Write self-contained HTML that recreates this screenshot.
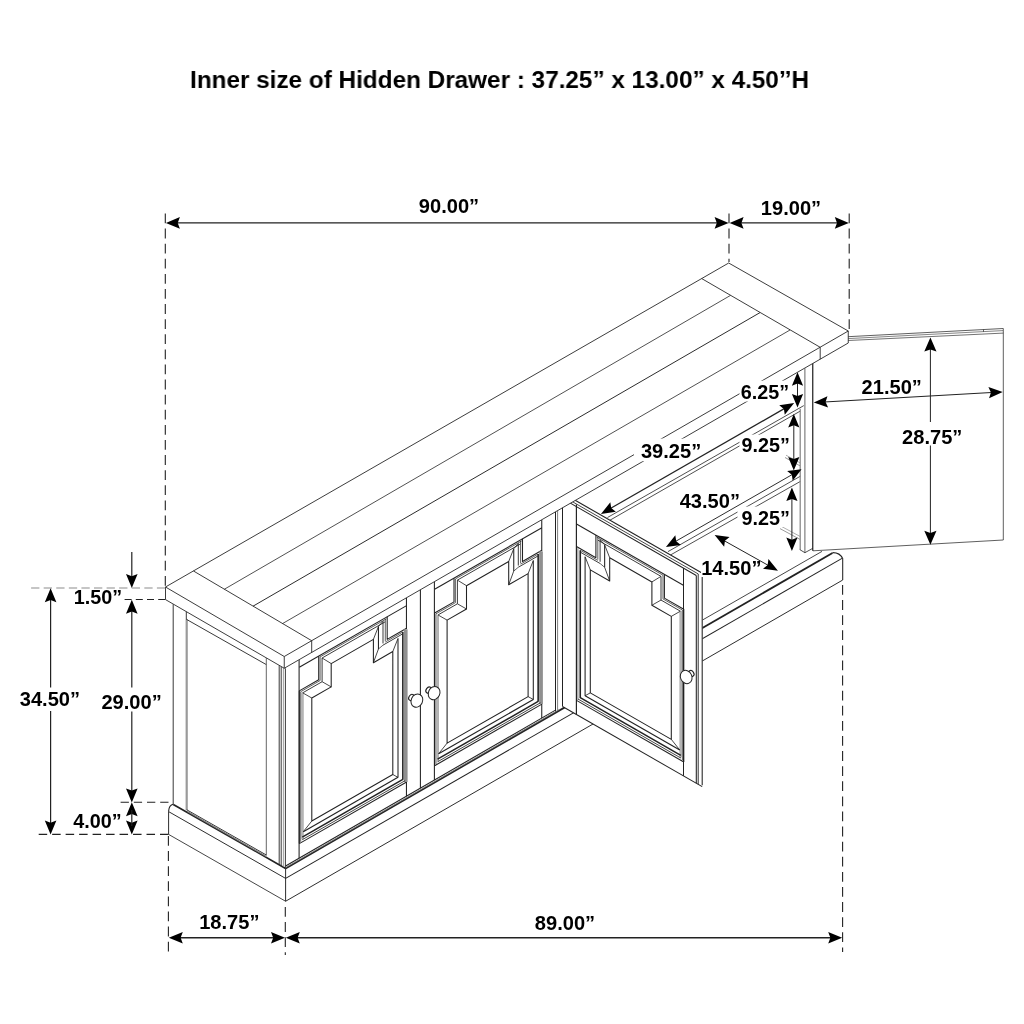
<!DOCTYPE html>
<html lang="en">
<head>
<meta charset="utf-8">
<title>Cabinet dimensions</title>
<style>
html,body{margin:0;padding:0;background:#fff;}
body{width:1024px;height:1024px;overflow:hidden;position:relative;font-family:"Liberation Sans",sans-serif;}
h1{position:absolute;left:190.3px;top:65.1px;margin:0;font-size:24.8px;line-height:30px;transform:scaleX(0.98);will-change:transform;font-weight:bold;color:#000;white-space:nowrap;letter-spacing:0;transform-origin:0 0;}
svg{position:absolute;left:0;top:0;will-change:transform;}
svg text{font-family:"Liberation Sans",sans-serif;font-weight:bold;fill:#000;}
</style>
</head>
<body>
<h1 id="ttl">Inner size of Hidden Drawer : 37.25” x 13.00” x 4.50’’H</h1>
<svg width="1024" height="1024" viewBox="0 0 1024 1024" fill="none" stroke-linecap="butt">
<line x1="702.5" y1="620.02" x2="822" y2="551.39" stroke="#222" stroke-width="0.84"/>
<path d="M285.6 868.4 L832.5 552.94" fill="none" stroke="#222" stroke-width="1.78" stroke-linejoin="round"/>
<path d="M832.5 552.64 Q 839.9 552.48 842.8 558.8" fill="none" stroke="#222" stroke-width="1.1"/>
<line x1="285.6" y1="878.4" x2="842" y2="558.4" stroke="#222" stroke-width="1.05"/>
<line x1="285.6" y1="901.25" x2="842.7" y2="580.06" stroke="#222" stroke-width="0.95"/>
<line x1="842.7" y1="558.6" x2="842.7" y2="580.06" stroke="#222" stroke-width="1.05"/>
<line x1="285.6" y1="868" x2="285.6" y2="901.25" stroke="#222" stroke-width="0.95"/>
<path d="M285.6 868.4 L173.3 804.4" fill="none" stroke="#222" stroke-width="1.68" stroke-linejoin="round"/>
<path d="M173.3 804.3 Q 169 805 168.6 811.3" fill="none" stroke="#222" stroke-width="1.1"/>
<line x1="168.6" y1="811.6" x2="285.6" y2="878.4" stroke="#222" stroke-width="0.95"/>
<line x1="168.6" y1="834.4" x2="285.6" y2="901.25" stroke="#222" stroke-width="0.84"/>
<line x1="168.6" y1="811.3" x2="168.6" y2="834.4" stroke="#222" stroke-width="0.95"/>
<line x1="173.2" y1="604.2" x2="173.2" y2="804.3" stroke="#222" stroke-width="0.9"/>
<line x1="186.3" y1="611.4" x2="186.3" y2="619.3" stroke="#222" stroke-width="0.9"/>
<line x1="186.7" y1="619.3" x2="186.7" y2="810.2" stroke="#9a9a9a" stroke-width="2.2"/>
<line x1="186.2" y1="619.2" x2="266.3" y2="664.6" stroke="#222" stroke-width="0.9"/>
<line x1="266.3" y1="658" x2="266.3" y2="855.4" stroke="#555" stroke-width="0.9"/>
<line x1="186.8" y1="809.8" x2="266.3" y2="855" stroke="#222" stroke-width="0.9"/>
<line x1="187.4" y1="811.4" x2="266.3" y2="856.4" stroke="#777" stroke-width="1.1"/>
<line x1="279.2" y1="665.5" x2="279.2" y2="864.4" stroke="#222" stroke-width="0.9"/>
<line x1="281.2" y1="666.6" x2="281.2" y2="865.6" stroke="#222" stroke-width="0.9"/>
<line x1="283.4" y1="667.8" x2="283.4" y2="866.9" stroke="#888" stroke-width="0.8"/>
<line x1="285.4" y1="668.3" x2="285.4" y2="868" stroke="#222" stroke-width="0.9"/>
<line x1="299.1" y1="659.99" x2="299.1" y2="858.23" stroke="#222" stroke-width="1.06"/>
<line x1="406.45" y1="597.78" x2="406.45" y2="628.91" stroke="#222" stroke-width="1.06"/>
<line x1="406.45" y1="781.41" x2="406.45" y2="796.24" stroke="#222" stroke-width="1.06"/>
<line x1="420.4" y1="589.73" x2="420.4" y2="788.18" stroke="#222" stroke-width="1.06"/>
<line x1="434.4" y1="581.66" x2="434.4" y2="780.1" stroke="#222" stroke-width="1.06"/>
<line x1="541.75" y1="519.75" x2="541.75" y2="551.31" stroke="#222" stroke-width="1.06"/>
<line x1="541.75" y1="703.81" x2="541.75" y2="718.1" stroke="#222" stroke-width="1.06"/>
<line x1="555.5" y1="511.82" x2="555.5" y2="711.66" stroke="#222" stroke-width="1.06"/>
<line x1="557.6" y1="510.61" x2="557.6" y2="710.45" stroke="#666" stroke-width="0.83"/>
<line x1="285.6" y1="866.03" x2="555.5" y2="710.16" stroke="#222" stroke-width="1.06"/>
<line x1="285.6" y1="867.63" x2="560" y2="709.16" stroke="#777" stroke-width="0.83"/>
<line x1="299.3" y1="667.2" x2="406.6" y2="605.61" stroke="#222" stroke-width="1.06"/>
<path d="M299.3 843.6 L299.3 690.9 L318.7 679.76 L318.7 656.06" fill="none" stroke="#222" stroke-width="1.06" stroke-linejoin="round"/>
<path d="M387.2 616.75 L387.2 639.35 L406.6 628.21" fill="none" stroke="#222" stroke-width="1.06" stroke-linejoin="round"/>
<path d="M406.6 782.01 L299.3 843.6" fill="none" stroke="#222" stroke-width="1.06" stroke-linejoin="round"/>
<path d="M311.8 821.03 L311.8 698.03 L331.2 686.89 L331.2 663.59 L373.4 639.37 L373.4 662.67 L392.8 651.53 L392.8 774.53 Z" fill="none" stroke="#222" stroke-width="1.06" stroke-linejoin="round"/>
<path d="M300.7 841.84 L300.7 691.7 L320.1 680.56 L320.1 656.86 L386.36 618.83" fill="none" stroke="#222" stroke-width="0.71" stroke-linejoin="round"/>
<path d="M302.7 839.31 L302.7 692.85 L322.1 681.71 L322.1 658.01 L385.16 621.82" fill="none" stroke="#222" stroke-width="0.89" stroke-linejoin="round"/>
<line x1="302.3" y1="692.68" x2="302.3" y2="838.88" stroke="#b4b4b4" stroke-width="2.6"/>
<line x1="322.1" y1="658.01" x2="331.2" y2="663.59" stroke="#222" stroke-width="0.83"/>
<line x1="322.1" y1="681.71" x2="331.2" y2="686.89" stroke="#222" stroke-width="0.83"/>
<line x1="302.7" y1="692.85" x2="311.8" y2="698.03" stroke="#222" stroke-width="0.83"/>
<line x1="385.3" y1="618.79" x2="385.3" y2="641.2" stroke="#222" stroke-width="0.71"/>
<line x1="383" y1="621.26" x2="383" y2="643.44" stroke="#222" stroke-width="0.89"/>
<line x1="378.45" y1="626.57" x2="378.45" y2="648.97" stroke="#222" stroke-width="1.06"/>
<line x1="378.45" y1="626.57" x2="373.4" y2="639.37" stroke="#222" stroke-width="0.83"/>
<line x1="378.45" y1="648.97" x2="373.4" y2="662.67" stroke="#222" stroke-width="0.83"/>
<line x1="383" y1="621.26" x2="378.45" y2="626.57" stroke="#222" stroke-width="0.83"/>
<line x1="385.3" y1="642.04" x2="402.85" y2="631.96" stroke="#222" stroke-width="0.71"/>
<line x1="383" y1="645.16" x2="402.85" y2="633.76" stroke="#222" stroke-width="0.89"/>
<line x1="378.45" y1="648.97" x2="383" y2="645.16" stroke="#222" stroke-width="0.71"/>
<line x1="398" y1="638.45" x2="392.8" y2="651.53" stroke="#222" stroke-width="0.83"/>
<line x1="402.85" y1="631.96" x2="402.85" y2="779.76" stroke="#222" stroke-width="1.59"/>
<line x1="398" y1="638.45" x2="398" y2="777.55" stroke="#222" stroke-width="1.06"/>
<line x1="405.7" y1="629.33" x2="405.7" y2="781.93" stroke="#909090" stroke-width="3.78"/>
<line x1="302.3" y1="839.68" x2="405.1" y2="780.67" stroke="#222" stroke-width="0.83"/>
<line x1="302.3" y1="837.08" x2="402.85" y2="779.36" stroke="#222" stroke-width="1.53"/>
<line x1="303.3" y1="831.7" x2="398" y2="777.35" stroke="#222" stroke-width="1.18"/>
<line x1="303.3" y1="831.7" x2="311.8" y2="821.03" stroke="#222" stroke-width="0.83"/>
<line x1="398" y1="777.35" x2="392.8" y2="774.53" stroke="#222" stroke-width="0.83"/>
<line x1="434.6" y1="589.3" x2="541.9" y2="527.71" stroke="#222" stroke-width="1.06"/>
<path d="M434.6 765.7 L434.6 613 L454 601.86 L454 578.16" fill="none" stroke="#222" stroke-width="1.06" stroke-linejoin="round"/>
<path d="M522.5 538.85 L522.5 561.45 L541.9 550.31" fill="none" stroke="#222" stroke-width="1.06" stroke-linejoin="round"/>
<path d="M541.9 704.11 L434.6 765.7" fill="none" stroke="#222" stroke-width="1.06" stroke-linejoin="round"/>
<path d="M447.1 743.12 L447.1 620.12 L466.5 608.99 L466.5 585.69 L508.7 561.47 L508.7 584.77 L528.1 573.63 L528.1 696.63 Z" fill="none" stroke="#222" stroke-width="1.06" stroke-linejoin="round"/>
<path d="M436 763.94 L436 613.8 L455.4 602.66 L455.4 578.96 L521.66 540.93" fill="none" stroke="#222" stroke-width="0.71" stroke-linejoin="round"/>
<path d="M438 761.41 L438 614.95 L457.4 603.81 L457.4 580.11 L520.46 543.92" fill="none" stroke="#222" stroke-width="0.89" stroke-linejoin="round"/>
<line x1="437.6" y1="614.78" x2="437.6" y2="760.98" stroke="#b4b4b4" stroke-width="2.6"/>
<line x1="457.4" y1="580.11" x2="466.5" y2="585.69" stroke="#222" stroke-width="0.83"/>
<line x1="457.4" y1="603.81" x2="466.5" y2="608.99" stroke="#222" stroke-width="0.83"/>
<line x1="438" y1="614.95" x2="447.1" y2="620.12" stroke="#222" stroke-width="0.83"/>
<line x1="520.6" y1="540.89" x2="520.6" y2="563.3" stroke="#222" stroke-width="0.71"/>
<line x1="518.3" y1="543.36" x2="518.3" y2="565.54" stroke="#222" stroke-width="0.89"/>
<line x1="513.75" y1="548.67" x2="513.75" y2="571.07" stroke="#222" stroke-width="1.06"/>
<line x1="513.75" y1="548.67" x2="508.7" y2="561.47" stroke="#222" stroke-width="0.83"/>
<line x1="513.75" y1="571.07" x2="508.7" y2="584.77" stroke="#222" stroke-width="0.83"/>
<line x1="518.3" y1="543.36" x2="513.75" y2="548.67" stroke="#222" stroke-width="0.83"/>
<line x1="520.6" y1="564.14" x2="538.15" y2="554.06" stroke="#222" stroke-width="0.71"/>
<line x1="518.3" y1="567.26" x2="538.15" y2="555.86" stroke="#222" stroke-width="0.89"/>
<line x1="513.75" y1="571.07" x2="518.3" y2="567.26" stroke="#222" stroke-width="0.71"/>
<line x1="533.3" y1="560.55" x2="528.1" y2="573.63" stroke="#222" stroke-width="0.83"/>
<line x1="538.15" y1="554.06" x2="538.15" y2="701.86" stroke="#222" stroke-width="1.59"/>
<line x1="533.3" y1="560.55" x2="533.3" y2="699.65" stroke="#222" stroke-width="1.06"/>
<line x1="541" y1="551.43" x2="541" y2="704.03" stroke="#909090" stroke-width="3.78"/>
<line x1="437.6" y1="761.78" x2="540.4" y2="702.77" stroke="#222" stroke-width="0.83"/>
<line x1="437.6" y1="759.18" x2="538.15" y2="701.46" stroke="#222" stroke-width="1.53"/>
<line x1="438.6" y1="753.8" x2="533.3" y2="699.45" stroke="#222" stroke-width="1.18"/>
<line x1="438.6" y1="753.8" x2="447.1" y2="743.12" stroke="#222" stroke-width="0.83"/>
<line x1="533.3" y1="699.45" x2="528.1" y2="696.63" stroke="#222" stroke-width="0.83"/>
<ellipse cx="411.4" cy="697.4" rx="2.4" ry="3.3" transform="rotate(35 411.4 697.4)" fill="#fff" stroke="#222" stroke-width="1.1"/>
<ellipse cx="416.9" cy="700.6" rx="5.7" ry="6.8" transform="rotate(25 416.9 700.6)" fill="#fff" stroke="#222" stroke-width="1.0"/>
<ellipse cx="428.6" cy="690" rx="2.4" ry="3.3" transform="rotate(35 428.6 690)" fill="#fff" stroke="#222" stroke-width="1.1"/>
<ellipse cx="434.1" cy="693.1" rx="5.7" ry="6.8" transform="rotate(25 434.1 693.1)" fill="#fff" stroke="#222" stroke-width="1.0"/>
<line x1="607.5" y1="517.5" x2="803.8" y2="405.6" stroke="#222" stroke-width="0.8"/>
<line x1="610" y1="520.2" x2="800.4" y2="411" stroke="#222" stroke-width="0.8"/>
<line x1="668" y1="551.6" x2="800.4" y2="476.2" stroke="#222" stroke-width="0.8"/>
<line x1="668" y1="556.4" x2="800.4" y2="481.4" stroke="#222" stroke-width="0.8"/>
<line x1="785" y1="457.5" x2="800" y2="465.8" stroke="#555" stroke-width="0.6"/>
<line x1="786" y1="455.2" x2="800" y2="462.8" stroke="#777" stroke-width="0.6"/>
<line x1="780" y1="528.6" x2="800" y2="539.4" stroke="#555" stroke-width="0.6"/>
<line x1="781" y1="526.2" x2="800" y2="536.4" stroke="#777" stroke-width="0.6"/>
<line x1="800.2" y1="408.8" x2="800.2" y2="549.8" stroke="#808080" stroke-width="1.2"/>
<line x1="804.9" y1="368.3" x2="804.9" y2="552.8" stroke="#555" stroke-width="0.9"/>
<line x1="813" y1="363.63" x2="813" y2="550.8" stroke="#111" stroke-width="1.5"/>
<path d="M799.8 549.6 L804.9 552.7 L813 548.2" fill="none" stroke="#222" stroke-width="0.8" stroke-linejoin="round"/>
<path d="M813 345 L848 336.7 L1003.3 328.5 L1003.3 540 L813 550.8 Z" fill="#fff" stroke="#2a2a2a" stroke-width="0.75" stroke-linejoin="round"/>
<line x1="848" y1="338.6" x2="1003" y2="330.6" stroke="#333" stroke-width="0.6"/>
<line x1="848" y1="340.5" x2="1003.3" y2="333.1" stroke="#333" stroke-width="0.7"/>
<line x1="983.5" y1="329.6" x2="983.5" y2="331.8" stroke="#222" stroke-width="0.7"/>
<path d="M562.5 493.02 L702.5 573.24 L702.5 786.44 L562.5 706.42 Z" fill="#fff" stroke="#fff" stroke-width="0.01" stroke-linejoin="round"/>
<line x1="562.5" y1="493.02" x2="562.5" y2="706.42" stroke="#222" stroke-width="1.06"/>
<line x1="562.5" y1="493.02" x2="702.4" y2="573.32" stroke="#222" stroke-width="1.06"/>
<line x1="562.5" y1="496.02" x2="698.2" y2="573.91" stroke="#222" stroke-width="0.83"/>
<line x1="562.5" y1="498.62" x2="696.3" y2="575.42" stroke="#222" stroke-width="1.06"/>
<line x1="576.4" y1="504.5" x2="576.4" y2="714.4" stroke="#222" stroke-width="1.18"/>
<line x1="683.5" y1="568.08" x2="683.5" y2="775.88" stroke="#222" stroke-width="1.06"/>
<line x1="696.3" y1="575.42" x2="696.3" y2="783.22" stroke="#222" stroke-width="1.06"/>
<line x1="698.2" y1="573.91" x2="698.2" y2="784.31" stroke="#222" stroke-width="0.94"/>
<line x1="702.2" y1="573.21" x2="702.2" y2="785.31" stroke="#222" stroke-width="1.06"/>
<line x1="562.5" y1="706.42" x2="702.2" y2="786.61" stroke="#222" stroke-width="1.06"/>
<line x1="683.8" y1="585.55" x2="576.5" y2="523.96" stroke="#222" stroke-width="1.06"/>
<path d="M683.8 761.95 L683.8 609.25 L664.4 598.11 L664.4 574.41" fill="none" stroke="#222" stroke-width="1.06" stroke-linejoin="round"/>
<path d="M595.9 535.09 L595.9 557.69 L576.5 546.56" fill="none" stroke="#222" stroke-width="1.06" stroke-linejoin="round"/>
<path d="M576.5 700.36 L683.8 761.95" fill="none" stroke="#222" stroke-width="1.06" stroke-linejoin="round"/>
<path d="M671.3 739.37 L671.3 616.37 L651.9 605.24 L651.9 581.94 L609.7 557.71 L609.7 581.01 L590.3 569.88 L590.3 692.88 Z" fill="none" stroke="#222" stroke-width="1.06" stroke-linejoin="round"/>
<path d="M682.4 760.18 L682.4 610.04 L663 598.91 L663 575.21 L596.74 537.18" fill="none" stroke="#222" stroke-width="0.71" stroke-linejoin="round"/>
<path d="M680.4 757.66 L680.4 611.2 L661 600.06 L661 576.36 L597.94 540.16" fill="none" stroke="#222" stroke-width="0.89" stroke-linejoin="round"/>
<line x1="680.8" y1="611.03" x2="680.8" y2="757.23" stroke="#b4b4b4" stroke-width="2.6"/>
<line x1="661" y1="576.36" x2="651.9" y2="581.94" stroke="#222" stroke-width="0.83"/>
<line x1="661" y1="600.06" x2="651.9" y2="605.24" stroke="#222" stroke-width="0.83"/>
<line x1="680.4" y1="611.2" x2="671.3" y2="616.37" stroke="#222" stroke-width="0.83"/>
<line x1="597.8" y1="537.13" x2="597.8" y2="559.54" stroke="#222" stroke-width="0.71"/>
<line x1="600.1" y1="539.6" x2="600.1" y2="561.78" stroke="#222" stroke-width="0.89"/>
<line x1="604.65" y1="544.92" x2="604.65" y2="567.32" stroke="#222" stroke-width="1.06"/>
<line x1="604.65" y1="544.92" x2="609.7" y2="557.71" stroke="#222" stroke-width="0.83"/>
<line x1="604.65" y1="567.32" x2="609.7" y2="581.01" stroke="#222" stroke-width="0.83"/>
<line x1="600.1" y1="539.6" x2="604.65" y2="544.92" stroke="#222" stroke-width="0.83"/>
<line x1="597.8" y1="560.38" x2="580.25" y2="550.31" stroke="#222" stroke-width="0.71"/>
<line x1="600.1" y1="563.5" x2="580.25" y2="552.11" stroke="#222" stroke-width="0.89"/>
<line x1="604.65" y1="567.32" x2="600.1" y2="563.5" stroke="#222" stroke-width="0.71"/>
<line x1="585.1" y1="556.79" x2="590.3" y2="569.88" stroke="#222" stroke-width="0.83"/>
<line x1="580.25" y1="550.31" x2="580.25" y2="698.11" stroke="#222" stroke-width="1.59"/>
<line x1="585.1" y1="556.79" x2="585.1" y2="695.89" stroke="#222" stroke-width="1.06"/>
<line x1="576.5" y1="546.56" x2="576.5" y2="700.36" stroke="#222" stroke-width="1.06"/>
<line x1="577.9" y1="548.16" x2="577.9" y2="699.96" stroke="#666" stroke-width="0.83"/>
<line x1="680.8" y1="758.03" x2="578" y2="699.02" stroke="#222" stroke-width="0.83"/>
<line x1="680.8" y1="755.43" x2="580.25" y2="697.71" stroke="#222" stroke-width="1.53"/>
<line x1="679.8" y1="750.05" x2="585.1" y2="695.69" stroke="#222" stroke-width="1.18"/>
<line x1="679.8" y1="750.05" x2="671.3" y2="739.37" stroke="#222" stroke-width="0.83"/>
<line x1="585.1" y1="695.69" x2="590.3" y2="692.88" stroke="#222" stroke-width="0.83"/>
<ellipse cx="691.4" cy="673.4" rx="2.3" ry="3.2" transform="rotate(-35 691.4 673.4)" fill="#fff" stroke="#222" stroke-width="1.1"/>
<ellipse cx="686.2" cy="677.0" rx="5.7" ry="6.8" transform="rotate(-25 686.2 677)" fill="#fff" stroke="#222" stroke-width="1.0"/>
<path d="M165.5 587 L728.7 263 L848.25 331 L848.25 343 L284.25 668.25 L165.5 599.6 Z" fill="#fff" stroke="#222" stroke-width="0.88" stroke-linejoin="round"/>
<path d="M165.5 587 L284.25 656.5 L848.25 331" fill="none" stroke="#222" stroke-width="0.88" stroke-linejoin="round"/>
<line x1="284.25" y1="656.5" x2="284.25" y2="668.25" stroke="#222" stroke-width="0.88"/>
<path d="M193.5 571 L311.7 640.7 L311.7 652.4" fill="none" stroke="#222" stroke-width="0.88" stroke-linejoin="round"/>
<path d="M701.75 278.6 L820.2 347.3 L820.2 359.2" fill="none" stroke="#222" stroke-width="0.88" stroke-linejoin="round"/>
<line x1="224.25" y1="589.3" x2="730.5" y2="295.4" stroke="#222" stroke-width="0.79"/>
<line x1="253" y1="606.2" x2="760" y2="312.6" stroke="#222" stroke-width="0.96"/>
<line x1="282.5" y1="623.6" x2="790" y2="330" stroke="#222" stroke-width="0.79"/>
<rect x="739.5" y="380.6" width="50" height="20.9" fill="#fff"/>
<rect x="634" y="438.6" width="69" height="22.6" fill="#fff"/>
<rect x="739.5" y="434.6" width="50.5" height="19.4" fill="#fff"/>
<rect x="678" y="492" width="63" height="18" fill="#fff"/>
<rect x="737.5" y="506.6" width="53" height="20.4" fill="#fff"/>
<rect x="701" y="559.5" width="60" height="17.5" fill="#fff"/>
<rect x="860" y="378.5" width="63" height="17" fill="#fff"/>
<rect x="901" y="423" width="62" height="22" fill="#fff"/>
<line x1="165.3" y1="213.5" x2="165.3" y2="586" stroke="#222" stroke-width="1.1" stroke-dasharray="9.8 5.3"/>
<line x1="729" y1="213.5" x2="729" y2="262" stroke="#222" stroke-width="1.1" stroke-dasharray="9.8 5.3"/>
<line x1="849.2" y1="213.5" x2="849.2" y2="330" stroke="#222" stroke-width="1.1" stroke-dasharray="9.8 5.3"/>
<line x1="170" y1="222.9" x2="725" y2="222.9" stroke="#222" stroke-width="1.4"/>
<polygon points="165.9,222.9 179.9,217.1 177.7,222.9 179.9,228.7" fill="#000"/>
<polygon points="728.6,222.9 714.6,228.7 716.8,222.9 714.6,217.1" fill="#000"/>
<line x1="735" y1="222.9" x2="844" y2="222.9" stroke="#222" stroke-width="1.4"/>
<polygon points="729.6,222.9 743.6,217.1 741.4,222.9 743.6,228.7" fill="#000"/>
<polygon points="848.8,222.9 834.8,228.7 837,222.9 834.8,217.1" fill="#000"/>
<line x1="165.2" y1="588" x2="30.8" y2="588" stroke="#8c8c8c" stroke-width="1.1" stroke-dasharray="8.3 4.28"/>
<line x1="165.2" y1="599.5" x2="123" y2="599.5" stroke="#222" stroke-width="1.1" stroke-dasharray="7 4.2"/>
<line x1="168.5" y1="802.3" x2="118.7" y2="802.3" stroke="#222" stroke-width="1.1" stroke-dasharray="8.3 4.9"/>
<line x1="168.5" y1="834.4" x2="38.7" y2="834.4" stroke="#222" stroke-width="1.1" stroke-dasharray="8.5 4.98"/>
<line x1="50.6" y1="594" x2="50.6" y2="687.5" stroke="#222" stroke-width="1.2"/>
<line x1="50.6" y1="711" x2="50.6" y2="830" stroke="#222" stroke-width="1.2"/>
<polygon points="50.6,588.2 56.4,602.2 50.6,600 44.8,602.2" fill="#000"/>
<polygon points="50.6,834.6 44.8,820.6 50.6,822.8 56.4,820.6" fill="#000"/>
<line x1="131.8" y1="552" x2="131.8" y2="580" stroke="#222" stroke-width="1.2"/>
<polygon points="131.8,588 126,574 131.8,576.2 137.6,574" fill="#000"/>
<line x1="131.8" y1="606" x2="131.8" y2="687.5" stroke="#222" stroke-width="1.2"/>
<polygon points="131.8,599.8 137.6,613.8 131.8,611.6 126,613.8" fill="#000"/>
<line x1="131.8" y1="711.5" x2="131.8" y2="796" stroke="#222" stroke-width="1.2"/>
<polygon points="131.8,802.4 126,788.4 131.8,790.6 137.6,788.4" fill="#000"/>
<polygon points="131.8,802.2 137.6,816.2 131.8,814 126,816.2" fill="#000"/>
<polygon points="131.8,834.6 126,820.6 131.8,822.8 137.6,820.6" fill="#000"/>
<line x1="131.8" y1="810" x2="131.8" y2="826" stroke="#222" stroke-width="1.2"/>
<line x1="168.4" y1="836" x2="168.4" y2="953" stroke="#222" stroke-width="1.1" stroke-dasharray="9.8 5.3"/>
<line x1="285.3" y1="907" x2="285.3" y2="955" stroke="#222" stroke-width="1.1" stroke-dasharray="9.8 5.3"/>
<line x1="842.6" y1="585" x2="842.6" y2="952" stroke="#222" stroke-width="1.1" stroke-dasharray="9.8 5.3"/>
<line x1="174" y1="937.8" x2="280" y2="937.8" stroke="#222" stroke-width="1.4"/>
<polygon points="168.8,937.8 182.8,932 180.6,937.8 182.8,943.6" fill="#000"/>
<polygon points="285,937.8 271,943.6 273.2,937.8 271,932" fill="#000"/>
<line x1="291" y1="937.8" x2="837" y2="937.8" stroke="#222" stroke-width="1.4"/>
<polygon points="285.8,937.8 299.8,932 297.6,937.8 299.8,943.6" fill="#000"/>
<polygon points="842.2,937.8 828.2,943.6 830.4,937.8 828.2,932" fill="#000"/>
<line x1="797.5" y1="380" x2="797.5" y2="400" stroke="#222" stroke-width="1"/>
<polygon points="797.5,372.2 803.1,385.7 797.5,383.5 791.9,385.7" fill="#000"/>
<polygon points="797.5,407.4 791.9,393.9 797.5,396.1 803.1,393.9" fill="#000"/>
<line x1="606" y1="511" x2="789" y2="405.9" stroke="#222" stroke-width="1.25"/>
<polygon points="600.95,514 610.33,502.22 611.19,508.12 615.86,511.84" fill="#000"/>
<polygon points="794.15,403 784.77,414.78 783.91,408.88 779.24,405.16" fill="#000"/>
<line x1="793.8" y1="420" x2="793.8" y2="465" stroke="#222" stroke-width="1"/>
<polygon points="793.8,414 799.4,427.5 793.8,425.3 788.2,427.5" fill="#000"/>
<polygon points="793.8,470.4 788.2,456.9 793.8,459.1 799.4,456.9" fill="#000"/>
<line x1="671" y1="544" x2="796.5" y2="472.1" stroke="#222" stroke-width="0.95"/>
<polygon points="665.95,547.1 675.33,535.32 676.19,541.22 680.86,544.94" fill="#000"/>
<polygon points="801.55,469.2 792.69,480.69 791.83,474.78 787.16,471.06" fill="#000"/>
<line x1="791.9" y1="493" x2="791.9" y2="545" stroke="#222" stroke-width="1"/>
<polygon points="791.9,487.6 797.5,501.1 791.9,498.9 786.3,501.1" fill="#000"/>
<polygon points="791.9,551 786.3,537.5 791.9,539.7 797.5,537.5" fill="#000"/>
<line x1="719" y1="537.8" x2="773.5" y2="568.3" stroke="#222" stroke-width="1"/>
<polygon points="714.65,535.1 729.58,537.1 724.95,540.87 724.15,546.79" fill="#000"/>
<polygon points="777.95,570.8 763.02,568.8 767.65,565.03 768.45,559.11" fill="#000"/>
<line x1="819" y1="402.3" x2="997" y2="392.2" stroke="#222" stroke-width="1"/>
<polygon points="813.8,402.62 827.45,396.14 825.58,401.95 828.1,407.52" fill="#000"/>
<polygon points="1002.7,391.88 989.05,398.36 990.92,392.55 988.4,386.98" fill="#000"/>
<line x1="930.4" y1="344" x2="930.4" y2="422" stroke="#222" stroke-width="1"/>
<line x1="930.4" y1="445.5" x2="930.4" y2="538" stroke="#222" stroke-width="1"/>
<polygon points="930.4,337.6 936.5,351.6 930.4,349.4 924.3,351.6" fill="#000"/>
<polygon points="930.4,544.8 924.3,530.8 930.4,533 936.5,530.8" fill="#000"/>
<text x="449" y="213.2" font-size="20" text-anchor="middle" textLength="60.3" lengthAdjust="spacingAndGlyphs">90.00”</text>
<text x="791" y="214.8" font-size="20" text-anchor="middle" textLength="60.3" lengthAdjust="spacingAndGlyphs">19.00”</text>
<text x="98" y="603.7" font-size="20" text-anchor="middle" textLength="48.4" lengthAdjust="spacingAndGlyphs">1.50”</text>
<text x="49.9" y="706.4" font-size="20" text-anchor="middle" textLength="60.3" lengthAdjust="spacingAndGlyphs">34.50”</text>
<text x="131.6" y="708.8" font-size="20" text-anchor="middle" textLength="60.3" lengthAdjust="spacingAndGlyphs">29.00”</text>
<text x="97.5" y="827.9" font-size="20" text-anchor="middle" textLength="48.4" lengthAdjust="spacingAndGlyphs">4.00”</text>
<text x="229.3" y="929" font-size="20" text-anchor="middle" textLength="60.3" lengthAdjust="spacingAndGlyphs">18.75”</text>
<text x="565" y="930.2" font-size="20" text-anchor="middle" textLength="60.3" lengthAdjust="spacingAndGlyphs">89.00”</text>
<text x="765" y="399.2" font-size="20" text-anchor="middle" textLength="48.4" lengthAdjust="spacingAndGlyphs">6.25”</text>
<text x="671.1" y="458.2" font-size="20" text-anchor="middle" textLength="60.3" lengthAdjust="spacingAndGlyphs">39.25”</text>
<text x="765.6" y="452.1" font-size="20" text-anchor="middle" textLength="48.4" lengthAdjust="spacingAndGlyphs">9.25”</text>
<text x="709.8" y="507.8" font-size="20" text-anchor="middle" textLength="60.3" lengthAdjust="spacingAndGlyphs">43.50”</text>
<text x="765.6" y="525.2" font-size="20" text-anchor="middle" textLength="48.4" lengthAdjust="spacingAndGlyphs">9.25”</text>
<text x="731.3" y="575.2" font-size="20" text-anchor="middle" textLength="60.3" lengthAdjust="spacingAndGlyphs">14.50”</text>
<text x="891.7" y="393.6" font-size="20" text-anchor="middle" textLength="60.3" lengthAdjust="spacingAndGlyphs">21.50”</text>
<text x="932.2" y="443.5" font-size="20" text-anchor="middle" textLength="60.3" lengthAdjust="spacingAndGlyphs">28.75”</text>
</svg>
</body>
</html>
